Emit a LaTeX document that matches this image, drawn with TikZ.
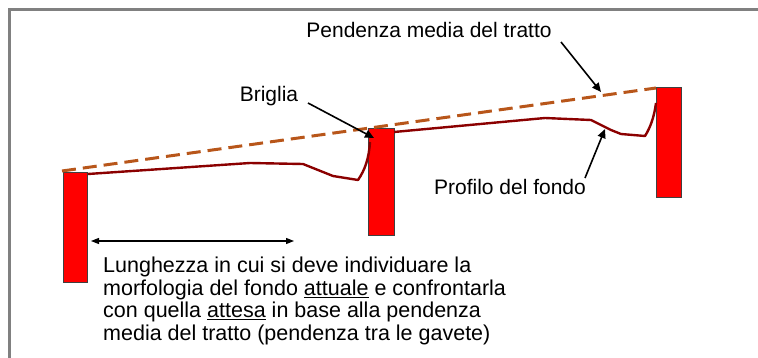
\documentclass[tikz,border=0pt]{standalone}
\usepackage{fontspec}
\setmainfont{Liberation Sans}
\usetikzlibrary{arrows.meta}
\definecolor{damred}{HTML}{FF0000}
\definecolor{slopecol}{HTML}{B8561A}
\definecolor{bedcol}{HTML}{8B0000}
\definecolor{framegray}{HTML}{808080}
\tikzset{
  dam/.style={draw=black!75, line width=0.9pt, fill=damred},
  lbl/.style={inner sep=0pt, font=\fontsize{21}{22.5}\selectfont},
  pointer/.style={line width=1.6pt, -{Triangle[length=9pt,width=8pt]}},
}
\begin{document}
\begin{tikzpicture}[x=1pt,y=-1pt]
\useasboundingbox (0,0) rectangle (758,358);
% frame
\draw[framegray, line width=3pt] (9.5,358) -- (9.5,10) -- (758,10);
% dams
\node[dam, minimum width=24pt, minimum height=110pt, inner sep=0pt, anchor=north west] (d1) at (63,172) {};
\node[dam, minimum width=26pt, minimum height=107pt, inner sep=0pt, anchor=north west] (d2) at (368,128) {};
\node[dam, minimum width=25pt, minimum height=110pt, inner sep=0pt, anchor=north west] (d3) at (656,87) {};
% mean slope line
\coordinate (s1) at (62,171);
\coordinate (s3) at (656,88);
\draw[slopecol, line width=3pt, dash pattern=on 14pt off 7pt] (s1) -- (s3);
% bed profile
\draw[bedcol, line width=2.4pt, line join=round]
  (d1.north east) ++(0,2) -- (250,163) -- (303,164) -- (333,176) -- (358,180)
  .. controls (365,170) and (369,158) .. (370,142);
\draw[bedcol, line width=2.4pt, line join=round]
  (394,132) -- (545,118) -- (591,120) -- (611,130) -- (621,134) -- (645,136)
  .. controls (650,128) and (654,118) .. (656,103);
% labels
\node[lbl, anchor=center] (pend) at (429,30) {Pendenza media del tratto};
\node[lbl, anchor=center] (brig) at (269,96) {Briglia};
\node[lbl, anchor=center] (prof) at (510,187) {Profilo del fondo};
\node[lbl, font=\fontsize{21.5}{22.5}\selectfont, anchor=north west, align=left] (desc) at (103,257)
  {Lunghezza in cui si deve individuare la\\
   morfologia del fondo \underline{attuale} e confrontarla\\
   con quella \underline{attesa} in base alla pendenza\\
   media del tratto (pendenza tra le gavete)};
% pointers
\coordinate (pa) at (561,42);
\coordinate (pb) at (601,92);
\draw[pointer] (pa) -- (pb);
\coordinate (ba) at (308,103);
\coordinate (bb) at (374,138);
\draw[pointer] (ba) -- (bb);
\coordinate (fa) at (585,178);
\coordinate (fb) at (605,129);
\draw[pointer] (fa) -- (fb);
% length arrow
\coordinate (la) at (91,241);
\coordinate (lb) at (294,241);
\draw[line width=1.2pt, {Triangle[length=8pt,width=6pt]}-{Triangle[length=8pt,width=6pt]}] (la) -- (lb);
\end{tikzpicture}
\end{document}
